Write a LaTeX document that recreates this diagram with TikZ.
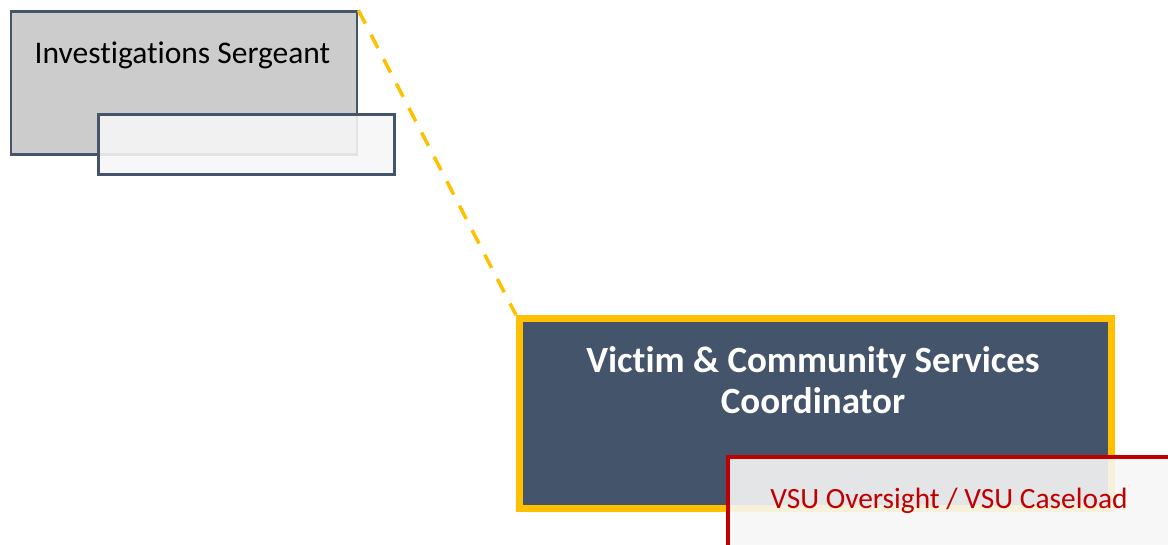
\documentclass[tikz,border=0pt]{standalone}
\usepackage{fontspec}
\setmainfont{Carlito}[Ligatures=NoCommon]
\definecolor{slate}{HTML}{44546A}
\definecolor{boxgray}{HTML}{CCCCCC}
\definecolor{paper}{HTML}{F7F7F7}
\definecolor{gold}{HTML}{FFC000}
\definecolor{crimson}{HTML}{C00000}
\begin{document}
\begin{tikzpicture}[x=1pt,y=-1pt,
  box/.style={rectangle, inner sep=0pt, anchor=north west},
  sgtbox/.style={box, draw=slate, fill=boxgray, line width=2.7pt},
  subbox/.style={box, draw=slate, fill=paper, fill opacity=0.88, line width=2.7pt},
  leadbox/.style={box, draw=gold, fill=slate, line width=7pt},
  dutybox/.style={box, draw=crimson, fill=paper, fill opacity=0.89, line width=4pt},
  link/.style={draw=gold, line width=3.5pt, dash pattern=on 15pt off 12.5pt}
]
\clip (0,0) rectangle (1168,544);
\fill[white] (0,0) rectangle (1168,544);

% supervisor box with its empty sub-box
\node[sgtbox, minimum width=346pt, minimum height=142.5pt] (sgt) at (9.7,10.3) {};
\node[anchor=base, font=\fontsize{31.5}{38}\selectfont] (sgtlabel) at (182.5,63) {Investigations Sergeant};

% coordinator box
\node[leadbox, minimum width=592pt, minimum height=190pt] (vcs) at (516,315) {};

% reporting line from the sergeant to the coordinator
\draw[link] (sgt.north east) -- (vcs.north west);

\node[subbox, minimum width=296pt, minimum height=60pt] (sgtsub) at (97.3,113.3) {};

\node[anchor=base, text=white, align=center, font=\bfseries\fontsize{37}{41}\selectfont] (vcslabel) at (813,413) {Victim \& Community Services\\Coordinator};

% duties box
\node[dutybox, minimum width=447pt, minimum height=91pt] (duty) at (725.5,454.5) {};
\node[anchor=base, text=crimson, font=\fontsize{29.4}{35}\selectfont] (dutylabel) at (949,508) {VSU Oversight / VSU Caseload};
\end{tikzpicture}
\end{document}
